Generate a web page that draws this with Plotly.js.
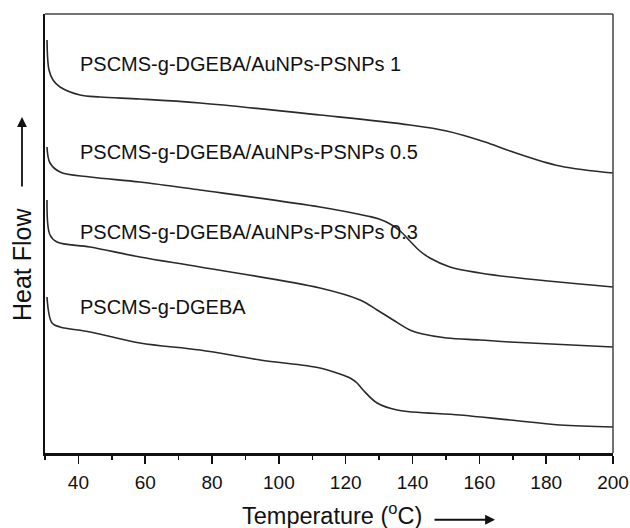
<!DOCTYPE html>
<html>
<head>
<meta charset="utf-8">
<script src="https://cdn.plot.ly/plotly-3.0.1.min.js"></script>
<style>html,body{margin:0;padding:0;background:#fff;}#chart{width:630px;height:528px;}</style>
</head>
<body>
<div id="chart"></div>
<script>
// Temperatures (°C) and heat flow (arbitrary units, exo up)
const t_psnps1 = [30.6, 31.2, 32.4, 34.5, 40.5, 46.5, 58.4, 76.4, 112.3, 139.2, 150.2, 161.7, 169.2, 184.1, 200];
const hf_psnps1 = [413, 383, 373, 366, 358, 356, 354, 350, 338, 328, 322, 311, 302, 287, 280];

const t_psnps05 = [30.6, 31.5, 34.5, 43.5, 58.4, 76.4, 112.3, 126.4, 130.0, 133.3, 136.3, 139.2, 142.2, 145.2, 151.2, 160.2, 169.2, 200];
const hf_psnps05 = [306, 290, 281, 276, 271, 263, 246, 237, 234, 229, 222, 212, 202, 195, 186, 180, 176, 166];

const t_psnps03 = [30.6, 31.5, 33.6, 43.5, 58.4, 76.4, 112.3, 124.3, 129.4, 134.2, 139.2, 143.1, 150.2, 160.2, 169.2, 200];
const hf_psnps03 = [253, 218, 211, 206, 196, 186, 165, 153, 143, 133, 123, 119, 115, 113, 111, 106];

const t_dgeba = [30.6, 32.1, 34.5, 43.5, 58.4, 76.4, 94.4, 112.3, 118.3, 121.3, 123.4, 125.2, 129.4, 135.4, 154.2, 169.2, 184.1, 200];
const hf_dgeba = [156, 130, 126, 121, 110, 103, 93, 85, 79, 75, 70, 63, 50, 43, 38, 33, 28, 26];

const seriesNames = ["PSCMS-g-DGEBA/AuNPs-PSNPs 1", "PSCMS-g-DGEBA/AuNPs-PSNPs 0.5", "PSCMS-g-DGEBA/AuNPs-PSNPs 0.3", "PSCMS-g-DGEBA"];
const xTickVals = [40, 60, 80, 100, 120, 140, 160, 180, 200];

const FONT = "Liberation Sans, Arial, sans-serif";
const lineStyle = {color: '#2a2a2a', width: 1.6, shape: 'spline', smoothing: 1.0};

const xs = [t_psnps1, t_psnps05, t_psnps03, t_dgeba];
const ys = [hf_psnps1, hf_psnps05, hf_psnps03, hf_dgeba];
const traces = xs.map((x, i) => ({
  x: x, y: ys[i], type: 'scatter', mode: 'lines', name: seriesNames[i],
  line: lineStyle, hoverinfo: 'skip'
}));

// label anchor positions (data coords)
const labelY = [389, 301, 221, 146];
const annotations = seriesNames.map((s, i) => ({
  text: s, x: 39.8, y: labelY[i], xref: 'x', yref: 'y', xanchor: 'left', yanchor: 'middle',
  showarrow: false, font: {family: FONT, size: 20, color: '#111'}
}));

annotations.push({
  text: 'Temperature (<sup>o</sup>C)', xref: 'paper', yref: 'paper', x: 0.5053, y: -0.1395,
  xanchor: 'center', yanchor: 'middle', showarrow: false, font: {family: FONT, size: 23.5, color: '#111'}
});
annotations.push({
  text: '', xref: 'paper', yref: 'paper', x: 0.7923, y: -0.152, ax: -62, ay: 0,
  showarrow: true, arrowhead: 2, arrowsize: 1.1, arrowwidth: 1.8, arrowcolor: '#111'
});
annotations.push({
  text: 'Heat Flow', xref: 'paper', yref: 'paper', x: -0.0405, y: 0.4305, textangle: -90,
  xanchor: 'center', yanchor: 'middle', showarrow: false, font: {family: FONT, size: 25, color: '#111'}
});
annotations.push({
  text: '', xref: 'paper', yref: 'paper', x: -0.0405, y: 0.7654, ax: 0, ay: 71,
  showarrow: true, arrowhead: 2, arrowsize: 1.1, arrowwidth: 1.8, arrowcolor: '#111'
});

const layout = {
  width: 630, height: 528,
  margin: {l: 45, r: 17, t: 14, b: 75},
  paper_bgcolor: '#fff', plot_bgcolor: '#fff',
  showlegend: false,
  font: {family: FONT, color: '#111'},
  xaxis: {
    range: [30, 200], tickvals: xTickVals, ticks: 'outside', ticklen: 8, tickwidth: 1.5, tickcolor: '#111',
    showline: true, linewidth: 2.5, linecolor: '#111', showgrid: false, zeroline: false,
    ticklabelstandoff: 3,
    tickfont: {family: FONT, size: 19, color: '#111'},
    minor: {dtick: 10, tick0: 30, ticks: 'outside', ticklen: 4, tickwidth: 1.5, tickcolor: '#111', showgrid: false}
  },
  yaxis: {
    range: [0, 439], showticklabels: false, ticks: '', showline: true, linewidth: 2.5, linecolor: '#111',
    showgrid: false, zeroline: false
  },
  shapes: [
    {type: 'line', xref: 'paper', yref: 'paper', x0: 0, x1: 1, y0: 1, y1: 1, line: {color: '#444', width: 1.5}},
    {type: 'line', xref: 'paper', yref: 'paper', x0: 1, x1: 1, y0: 0, y1: 1, line: {color: '#444', width: 1.5}}
  ],
  annotations: annotations
};

Plotly.newPlot('chart', traces, layout, {displayModeBar: false, staticPlot: true});
</script>
</body>
</html>
